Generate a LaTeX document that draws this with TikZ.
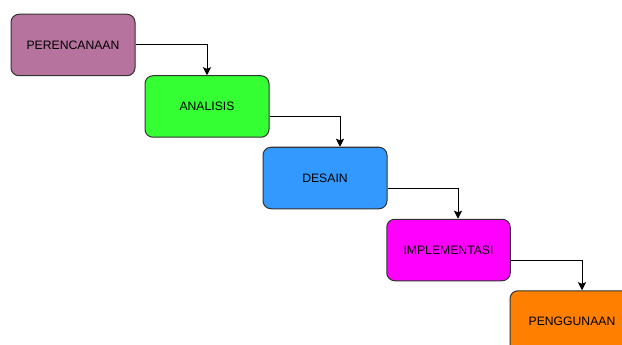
\documentclass[tikz,border=0pt]{standalone}
\usepackage{fontspec}
\setmainfont{Liberation Sans}
\usetikzlibrary{arrows.meta}
\definecolor{cplan}{HTML}{B5739D}
\definecolor{cana}{HTML}{33FF33}
\definecolor{cdes}{HTML}{3399FF}
\definecolor{cimp}{HTML}{FF00FF}
\definecolor{cuse}{HTML}{FF8000}
\definecolor{cborder}{HTML}{333333}
\tikzset{
  stagebox/.style={draw=cborder, line width=1pt, rounded corners=8pt,
    minimum width=124pt, minimum height=61.5pt, inner sep=0pt,
    font=\fontsize{12.2pt}{14pt}\selectfont, text=black},
  flowarrow/.style={draw=black, line width=1pt,
    -{Stealth[length=8pt,width=8pt,inset=1.5pt]}}
}
\begin{document}
\begin{tikzpicture}[x=1pt,y=-1pt]
  \useasboundingbox (0,0) rectangle (622,345);
  \clip (0,0) rectangle (622,345);
  \fill[white] (0,0) rectangle (622,345);
  \node[stagebox, fill=cplan] (b1) at (73,45) {PERENCANAAN};
  \node[stagebox, fill=cana]  (b2) at (207,106.5) {ANALISIS};
  \node[stagebox, fill=cdes]  (b3) at (325,178) {DESAIN};
  \node[stagebox, fill=cimp, minimum width=123.5pt] (b4) at (448.5,250) {IMPLEMENTASI};
  \node[stagebox, fill=cuse]  (b5) at (572,321.5) {PENGGUNAAN};
  \draw[flowarrow] (b1.east) -| (b2.north);
  \draw[flowarrow] ([yshift=-10.5pt]b2.east) -| ([xshift=15pt]b3.north);
  \draw[flowarrow] ([yshift=-10pt]b3.east) -| ([xshift=9.5pt]b4.north);
  \draw[flowarrow] ([yshift=-10pt]b4.east) -| ([xshift=10pt]b5.north);
\end{tikzpicture}
\end{document}
